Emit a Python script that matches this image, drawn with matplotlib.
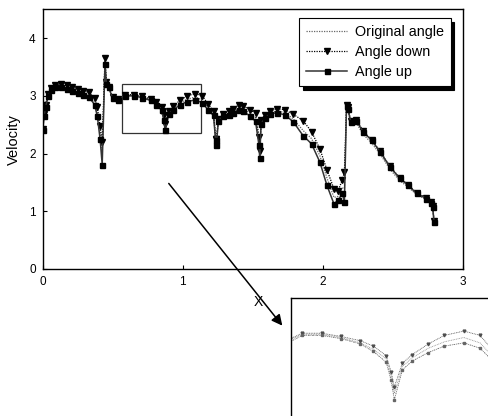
import numpy as np
import matplotlib
matplotlib.use('Agg')
import matplotlib.pyplot as plt
from matplotlib.patches import Rectangle

plt.rcParams['font.family'] = ['Liberation Sans', 'DejaVu Sans']

# x position along the profile
x = [0.00, 0.01, 0.02, 0.04, 0.06, 0.09, 0.13, 0.17, 0.21, 0.25, 0.29, 0.33, 0.37, 0.39, 0.41, 0.425,
     0.445, 0.455, 0.47, 0.50, 0.54, 0.59, 0.65, 0.71, 0.77, 0.81, 0.85, 0.865, 0.875, 0.90, 0.93, 0.98,
     1.03, 1.09, 1.14, 1.18, 1.22, 1.235, 1.24, 1.255, 1.29, 1.33, 1.36, 1.40, 1.43, 1.48, 1.52, 1.545,
     1.55, 1.56, 1.59, 1.62, 1.67, 1.73, 1.79, 1.86, 1.92, 1.98, 2.03, 2.08, 2.11, 2.14, 2.155, 2.17,
     2.18, 2.20, 2.24, 2.29, 2.35, 2.41, 2.48, 2.55, 2.61, 2.67, 2.74, 2.77, 2.785, 2.795]

original = [2.40, 2.66, 2.82, 3.02, 3.12, 3.17, 3.17, 3.14, 3.11, 3.08, 3.05, 3.01, 2.90, 2.72, 2.40, 2.00,
            3.58, 3.22, 3.15, 2.97, 2.94, 3.01, 3.01, 2.98, 2.93, 2.87, 2.78, 2.62, 2.46, 2.71, 2.79, 2.88,
            2.94, 2.98, 2.93, 2.80, 2.70, 2.24, 2.18, 2.58, 2.67, 2.70, 2.74, 2.79, 2.78, 2.70, 2.62, 2.20,
            1.98, 2.55, 2.64, 2.70, 2.74, 2.71, 2.60, 2.40, 2.26, 1.96, 1.58, 1.24, 1.26, 1.40, 1.40, 2.80,
            2.76, 2.52, 2.53, 2.33, 2.18, 1.99, 1.73, 1.53, 1.42, 1.29, 1.20, 1.14, 1.07, 0.82]

angle_down = [2.42, 2.68, 2.85, 3.04, 3.14, 3.19, 3.20, 3.18, 3.15, 3.12, 3.09, 3.06, 2.96, 2.80, 2.48, 2.20,
              3.65, 3.24, 3.16, 2.98, 2.95, 3.02, 3.02, 2.99, 2.95, 2.90, 2.81, 2.66, 2.52, 2.74, 2.82, 2.92,
              3.00, 3.04, 3.00, 2.86, 2.74, 2.26, 2.25, 2.60, 2.69, 2.73, 2.78, 2.84, 2.83, 2.76, 2.70, 2.28,
              2.05, 2.58, 2.66, 2.73, 2.78, 2.76, 2.68, 2.57, 2.38, 2.08, 1.72, 1.39, 1.36, 1.54, 1.68, 2.85,
              2.80, 2.56, 2.58, 2.39, 2.23, 2.04, 1.78, 1.58, 1.46, 1.32, 1.23, 1.16, 1.09, 0.84]

angle_up = [2.40, 2.65, 2.80, 3.00, 3.10, 3.15, 3.15, 3.12, 3.08, 3.05, 3.02, 2.98, 2.85, 2.65, 2.25, 1.81,
            3.55, 3.20, 3.15, 2.96, 2.92, 3.00, 3.00, 2.97, 2.92, 2.85, 2.75, 2.58, 2.40, 2.68, 2.76, 2.84,
            2.90, 2.93, 2.88, 2.76, 2.66, 2.23, 2.14, 2.57, 2.65, 2.67, 2.71, 2.76, 2.74, 2.65, 2.56, 2.14,
            1.92, 2.52, 2.62, 2.68, 2.71, 2.67, 2.55, 2.31, 2.17, 1.85, 1.45, 1.13, 1.19, 1.31, 1.16, 2.83,
            2.78, 2.55, 2.57, 2.37, 2.23, 2.03, 1.77, 1.57, 1.45, 1.31, 1.22, 1.15, 1.08, 0.82]

labels = ['Original angle', 'Angle down', 'Angle up']
zoom_x = (0.564, 1.129)
zoom_y = (2.35, 3.21)

fig = plt.figure(figsize=(4.88, 4.16), dpi=100)
ax = fig.add_axes([0.0875, 0.3534, 0.8607, 0.6242])

ax.plot(x, original, color='0.4', lw=0.9, ls=(0, (1, 1)), label=labels[0])
ax.plot(x, angle_down, color='k', lw=0.9, ls=(0, (1, 1)), marker='v', ms=4.3, label=labels[1])
ax.plot(x, angle_up, color='0.2', lw=1.1, marker='s', ms=3.6, mfc='k', mec='k', label=labels[2])

ax.set_xlim(0, 3)
ax.set_ylim(0, 4.5)
ax.set_xticks([0, 1, 2, 3])
ax.set_yticks([0, 1, 2, 3, 4])
ax.tick_params(direction='in', length=3, labelsize=8.5, pad=5)
ax.set_ylabel('Velocity', fontsize=10.5, labelpad=6)
ax.set_xlabel('X', fontsize=10, labelpad=4)
ax.xaxis.set_label_coords(0.514, -0.1)
for s in ax.spines.values():
    s.set_linewidth(1.0)

ax.add_patch(Rectangle((zoom_x[0], zoom_y[0]), zoom_x[1] - zoom_x[0], zoom_y[1] - zoom_y[0],
                       fill=False, ec='0.2', lw=0.9))

leg = ax.legend(loc='upper right', bbox_to_anchor=(0.972, 0.966), borderaxespad=0,
                fancybox=False, edgecolor='k', framealpha=1, fontsize=10.4,
                handlelength=2.8, handletextpad=0.55, labelspacing=0.4, borderpad=0.5,
                shadow={'color': 'k', 'alpha': 1, 'ox': 2.5, 'oy': -2.5})
leg.get_frame().set_linewidth(0.8)

ax.annotate('', xy=(1.724, -1.02), xytext=(0.888, 1.52), annotation_clip=False,
            arrowprops=dict(arrowstyle='-|>', color='k', lw=1.1, mutation_scale=16))

# magnified view of the boxed region, cut by the figure edge
ins = fig.add_axes([0.596, -0.02, 0.44, 0.304])
ins.plot(x, original, color='0.55', lw=0.6, ls=(0, (1, 1)))
ins.plot(x, angle_down, color='0.3', lw=0.6, ls=(0, (1, 1)), marker='v', ms=2)
ins.plot(x, angle_up, color='0.4', lw=0.6, ls=(0, (2, 1, 1, 1)), marker='s', ms=1.6)
ins.set_xlim(0.555, 1.143 + 0.04 * 1.9)
ins.set_ylim(2.17, 3.35)
ins.set_xticks([])
ins.set_yticks([])
ins.spines['left'].set_linewidth(1.0)
ins.spines['top'].set_linewidth(1.0)

fig.savefig('out.png', dpi=100)
